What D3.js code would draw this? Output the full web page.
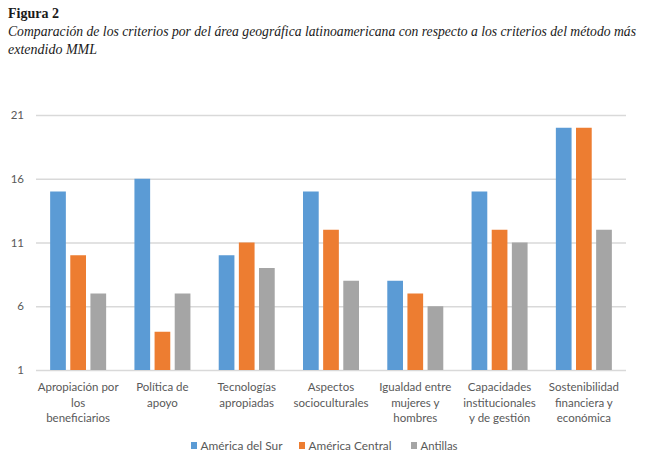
<!DOCTYPE html>
<html><head><meta charset="utf-8">
<script src="https://cdn.jsdelivr.net/npm/d3@7"></script>
<style>body{margin:0;background:#fff}svg{display:block}</style>
</head><body>
<script>
const categories = [
  ["Apropiación por","los","beneficiarios"],
  ["Política de","apoyo"],
  ["Tecnologías","apropiadas"],
  ["Aspectos","socioculturales"],
  ["Igualdad entre","mujeres y","hombres"],
  ["Capacidades","institucionales","y de gestión"],
  ["Sostenibilidad","financiera y","económica"]
];
const seriesNames = ["América del Sur","América Central","Antillas"];
const americaSur = [15,16,10,15,8,15,20];
const americaCentral = [10,4,11,12,7,12,20];
const antillas = [7,7,9,8,6,11,12];
const yTicks = [1,6,11,16,21];
const colors = ["#5b9bd5","#ed7d31","#a5a5a5"];
const series = [americaSur, americaCentral, antillas];

const W = 653, H = 473;
const svg = d3.select("body").append("svg").attr("width", W).attr("height", H);

svg.append("text").attr("x", 8).attr("y", 18)
  .attr("font-family","Liberation Serif").attr("font-weight","bold").attr("font-size",14)
  .attr("fill","#1a1a1a").text("Figura 2");
svg.append("text").attr("x", 8).attr("y", 36)
  .attr("font-family","Liberation Serif").attr("font-style","italic").attr("font-size",14)
  .attr("fill","#1a1a1a").attr("textLength",628).attr("lengthAdjust","spacingAndGlyphs")
  .text("Comparación de los criterios por del área geográfica latinoamericana con respecto a los criterios del método más");
svg.append("text").attr("x", 8).attr("y", 54)
  .attr("font-family","Liberation Serif").attr("font-style","italic").attr("font-size",14)
  .attr("fill","#1a1a1a").text("extendido MML");

const x0 = d3.scaleBand().domain(d3.range(categories.length)).range([36, 626]);
const x1 = d3.scaleBand().domain(d3.range(3)).range([0, 56]).paddingInner(0.22).paddingOuter(0);
const y = d3.scaleLinear().domain([1, 21]).range([370, 115]);

const yAxis = d3.axisLeft(y).tickValues(yTicks).tickSize(-590).tickPadding(12);
const gy = svg.append("g").attr("transform","translate(36,0)").call(yAxis);
gy.select(".domain").remove();
gy.selectAll(".tick line").attr("stroke","#d9d9d9").attr("stroke-width",1.3);
gy.selectAll(".tick text").attr("font-family","Lato, 'Open Sans', sans-serif").attr("font-size",11.5).attr("fill","#595959");

const groups = svg.append("g").selectAll("g").data(categories).join("g")
  .attr("transform",(d,i)=>`translate(${x0(i) + (x0.bandwidth()-56)/2},0)`);
groups.selectAll("rect").data((d,i)=>series.map((s,k)=>({k, v:s[i]}))).join("rect")
  .attr("x", d=>x1(d.k)).attr("width", x1.bandwidth())
  .attr("y", d=>y(d.v)).attr("height", d=>y(1)-y(d.v))
  .attr("fill", d=>colors[d.k]);

const labels = svg.append("g").selectAll("text").data(categories).join("text")
  .attr("x",(d,i)=>x0(i)+x0.bandwidth()/2).attr("y",391)
  .attr("text-anchor","middle").attr("font-family","Lato, 'Open Sans', sans-serif")
  .attr("font-size",11.5).attr("fill","#595959");
labels.selectAll("tspan").data(d=>d).join("tspan")
  .attr("x",function(){return this.parentNode.getAttribute("x");})
  .attr("dy",(d,j)=>j===0?0:15.5).text(d=>d);

const legX = [191, 299, 411];
const legW = [82, 83, 37];
const leg = svg.append("g").selectAll("g").data(seriesNames).join("g")
  .attr("transform",(d,i)=>`translate(${legX[i]},446)`);
leg.append("rect").attr("x",0).attr("y",-4).attr("width",6).attr("height",7).attr("fill",(d,i)=>colors[i]);
leg.append("text").attr("x",9.5).attr("y",4).attr("font-family","Lato, 'Open Sans', sans-serif")
  .attr("font-size",11.5).attr("fill","#595959")
  .attr("textLength",(d,i)=>legW[i]).attr("lengthAdjust","spacingAndGlyphs").text(d=>d);
</script>
</body></html>
